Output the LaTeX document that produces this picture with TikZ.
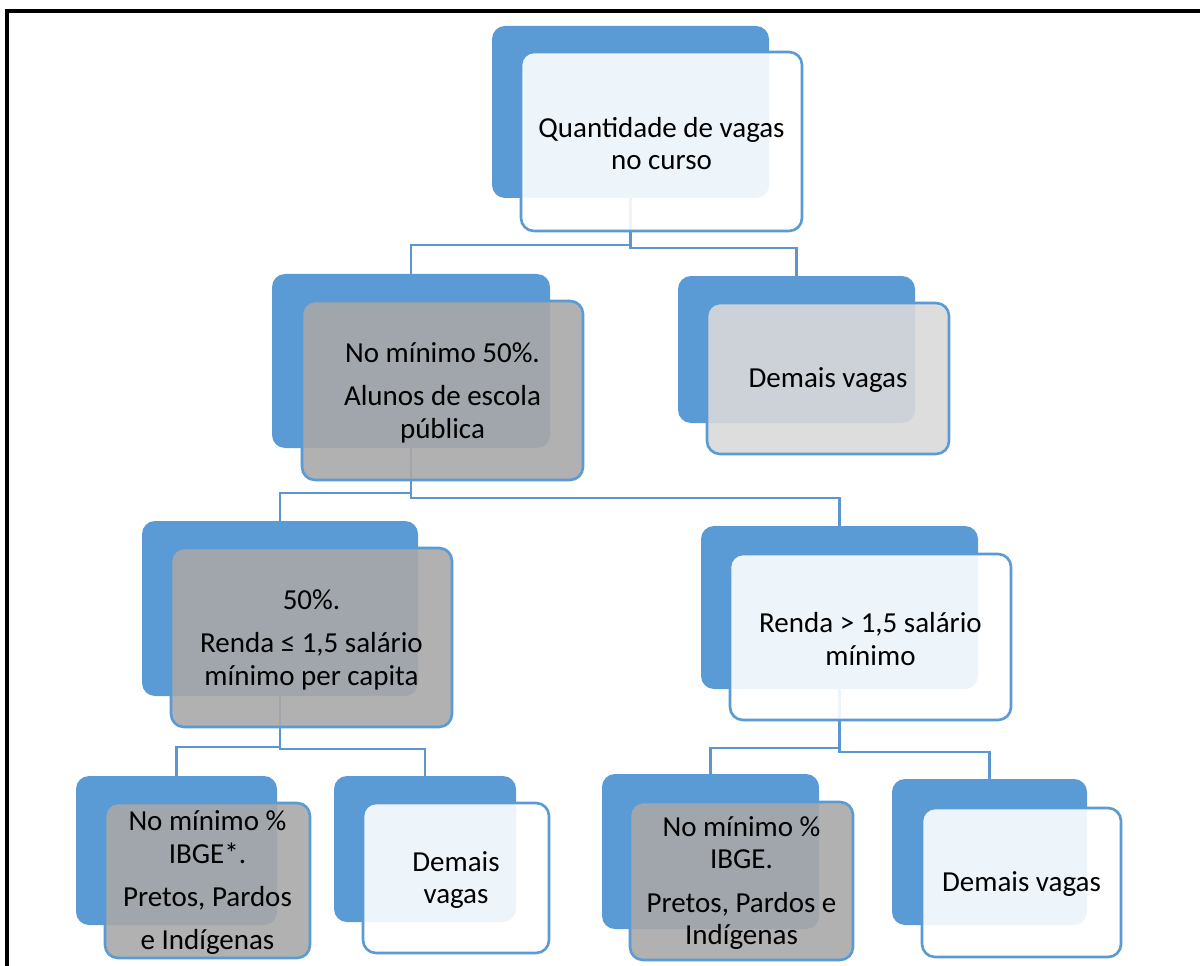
\documentclass[tikz,border=0pt]{standalone}
\usepackage{fontspec}
\setmainfont{Carlito}
\usetikzlibrary{fit}
\definecolor{sablue}{HTML}{5B9BD5}
\definecolor{conncol}{HTML}{5A97D2}
\definecolor{grayfront}{HTML}{A8A8A8}
\definecolor{lgrayfront}{HTML}{D9D9D9}
\pgfdeclarelayer{bg}
\pgfsetlayers{bg,main}
\begin{document}
\begin{tikzpicture}[x=0.02cm,y=-0.02cm,
  back/.style={fill=sablue, draw=none, rounded corners=0.26cm, inner sep=0pt},
  front/.style={draw=sablue, line width=1.5pt, rounded corners=0.26cm, inner sep=0pt,
    fill opacity=0.9},
  frontW/.style={front, fill=white},
  frontG/.style={front, fill=grayfront},
  frontLG/.style={front, fill=lgrayfront},
  txt/.style={align=center, inner sep=0pt, yshift=-0.04cm,
    font=\fontsize{16.5}{18.6}\selectfont},
  conn/.style={draw=conncol, line width=1.7pt},
  frame/.style={draw=black, line width=1.8pt}]
\useasboundingbox (0,0) rectangle (1200,966);

% outer frame
\coordinate (fbl) at (7,966);
\coordinate (ftl) at (7,11);
\coordinate (ftr) at (1200,11);
\draw[frame] (fbl) -- (ftl) -- (ftr);

% level 1
\node[back, fit={(492,26) (769,198)}] (n1b) {};
\node[frontW, fit={(521,52) (802,231)}] (n1f) {};
\node[txt] (n1t) at (n1f.center) {Quantidade de vagas\\no curso};

% level 2
\node[back, fit={(272,274) (550,448)}] (n2b) {};
\node[frontG, fit={(302,301) (583,480)}] (n2f) {};
\node[txt] (n2t) at (n2f.center) {No mínimo 50\%.\\[6pt]Alunos de escola\\pública};
\node[back, fit={(678,276) (915,423)}] (n3b) {};
\node[frontLG, fit={(707,303) (949,454)}] (n3f) {};
\node[txt] (n3t) at (n3f.center) {Demais vagas};

% level 3
\node[back, fit={(142,521) (418,696)}] (n4b) {};
\node[frontG, fit={(171,548) (452,727)}] (n4f) {};
\node[txt] (n4t) at (n4f.center) {50\%.\\[6pt]Renda ≤ 1,5 salário\\mínimo per capita};
\node[back, fit={(701,526) (978,689)}] (n5b) {};
\node[frontW, fit={(730,554) (1011,720)}] (n5f) {};
\node[txt] (n5t) at (n5f.center) {Renda > 1,5 salário\\mínimo};

% level 4
\node[back, fit={(76,776) (277,925)}] (n6b) {};
\node[frontG, fit={(105,803) (310,958)}] (n6f) {};
\node[txt] (n6t) at (n6f.center) {No mínimo \%\\IBGE*.\\[6pt]Pretos, Pardos\\[6pt]e Indígenas};
\node[back, fit={(334,776) (516,922)}] (n7b) {};
\node[frontW, fit={(363,803) (549,953)}] (n7f) {};
\node[txt] (n7t) at (n7f.center) {Demais\\vagas};
\node[back, fit={(602,774) (819,929)}] (n8b) {};
\node[frontG, fit={(630,802) (853,960)}] (n8f) {};
\node[txt] (n8t) at (n8f.center) {No mínimo \%\\IBGE.\\[6pt]Pretos, Pardos e\\Indígenas};
\node[back, fit={(892,779) (1087,925)}] (n9b) {};
\node[frontW, fit={(922,808) (1121,957)}] (n9f) {};
\node[txt] (n9t) at (n9f.center) {Demais vagas};

% connectors
\begin{pgfonlayer}{bg}
\draw[conn] (n1b.south) -- (n1b.south |- 0,245) -| (n2b.north);
\draw[conn] (n1b.south) -- (n1b.south |- 0,248) -| (n3b.north);
\draw[conn] (n2b.south) -- (n2b.south |- 0,493) -| (n4b.north);
\draw[conn] (n2b.south) -- (n2b.south |- 0,498) -| (n5b.north);
\draw[conn] (n4b.south) -- (n4b.south |- 0,747) -| (n6b.north);
\draw[conn] (n4b.south) -- (n4b.south |- 0,749) -| (n7b.north);
\draw[conn] (n5b.south) -- (n5b.south |- 0,748) -| (n8b.north);
\draw[conn] (n5b.south) -- (n5b.south |- 0,752) -| (n9b.north);
\end{pgfonlayer}
\end{tikzpicture}
\end{document}
